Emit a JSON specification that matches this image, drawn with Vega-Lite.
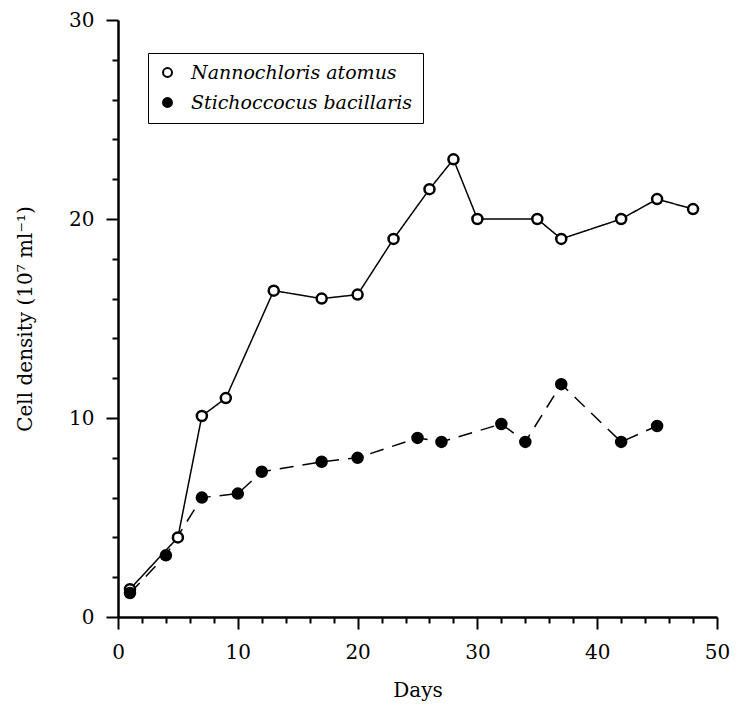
{
  "$schema": "https://vega.github.io/schema/vega-lite/v6.json",
  "width": 599,
  "height": 597,
  "autosize": {"type": "none"},
  "padding": {"left": 118, "top": 20, "right": 22, "bottom": 90},
  "background": "white",
  "config": {
    "view": {"stroke": null},
    "font": "DejaVu Serif",
    "axis": {
      "domainColor": "black", "domainWidth": 2.5, "tickColor": "black", "tickWidth": 2,
      "labelColor": "black", "labelFont": "DejaVu Serif", "labelFontSize": 20,
      "titleFont": "DejaVu Serif", "titleFontSize": 20, "titleFontWeight": "normal", "titleColor": "black",
      "grid": false
    },
    "legend": {
      "labelFont": "DejaVu Serif", "labelFontSize": 19, "labelFontStyle": "italic", "labelColor": "black"
    }
  },
  "data": {
    "values": [
      {"species": "Nannochloris atomus", "day": 1, "density": 1.4},
      {"species": "Nannochloris atomus", "day": 5, "density": 4.0},
      {"species": "Nannochloris atomus", "day": 7, "density": 10.1},
      {"species": "Nannochloris atomus", "day": 9, "density": 11.0},
      {"species": "Nannochloris atomus", "day": 13, "density": 16.4},
      {"species": "Nannochloris atomus", "day": 17, "density": 16.0},
      {"species": "Nannochloris atomus", "day": 20, "density": 16.2},
      {"species": "Nannochloris atomus", "day": 23, "density": 19.0},
      {"species": "Nannochloris atomus", "day": 26, "density": 21.5},
      {"species": "Nannochloris atomus", "day": 28, "density": 23.0},
      {"species": "Nannochloris atomus", "day": 30, "density": 20.0},
      {"species": "Nannochloris atomus", "day": 35, "density": 20.0},
      {"species": "Nannochloris atomus", "day": 37, "density": 19.0},
      {"species": "Nannochloris atomus", "day": 42, "density": 20.0},
      {"species": "Nannochloris atomus", "day": 45, "density": 21.0},
      {"species": "Nannochloris atomus", "day": 48, "density": 20.5},
      {"species": "Stichoccocus bacillaris", "day": 1, "density": 1.2},
      {"species": "Stichoccocus bacillaris", "day": 4, "density": 3.1},
      {"species": "Stichoccocus bacillaris", "day": 7, "density": 6.0},
      {"species": "Stichoccocus bacillaris", "day": 10, "density": 6.2},
      {"species": "Stichoccocus bacillaris", "day": 12, "density": 7.3},
      {"species": "Stichoccocus bacillaris", "day": 17, "density": 7.8},
      {"species": "Stichoccocus bacillaris", "day": 20, "density": 8.0},
      {"species": "Stichoccocus bacillaris", "day": 25, "density": 9.0},
      {"species": "Stichoccocus bacillaris", "day": 27, "density": 8.8},
      {"species": "Stichoccocus bacillaris", "day": 32, "density": 9.7},
      {"species": "Stichoccocus bacillaris", "day": 34, "density": 8.8},
      {"species": "Stichoccocus bacillaris", "day": 37, "density": 11.7},
      {"species": "Stichoccocus bacillaris", "day": 42, "density": 8.8},
      {"species": "Stichoccocus bacillaris", "day": 45, "density": 9.6}
    ]
  },
  "encoding": {
    "x": {
      "field": "day", "type": "quantitative",
      "scale": {"domain": [0, 50], "nice": false, "zero": false},
      "axis": {
        "title": "Days", "values": [0,2,4,6,8,10,12,14,16,18,20,22,24,26,28,30,32,34,36,38,40,42,44,46,48,50],
        "labelExpr": "datum.value % 10 === 0 ? datum.label : ''",
        "tickSize": {"condition": {"test": "datum.value % 10 === 0", "value": 12}, "value": 6},
        "labelPadding": 13, "titlePadding": 18, "labelFlush": false
      }
    },
    "y": {
      "field": "density", "type": "quantitative",
      "scale": {"domain": [0, 30], "nice": false},
      "axis": {
        "title": "Cell density (10⁷ ml⁻¹)",
        "values": [0,2,4,6,8,10,12,14,16,18,20,22,24,26,28,30],
        "labelExpr": "datum.value % 10 === 0 ? datum.label : ''",
        "tickSize": {"condition": {"test": "datum.value % 10 === 0", "value": 12}, "value": 6},
        "labelPadding": 12, "titlePadding": 33, "labelFlush": false
      }
    }
  },
  "resolve": {"legend": {"strokeDash": "independent", "fill": "independent"}},
  "layer": [
    {
      "mark": {"type": "line", "color": "black", "strokeWidth": 1.5},
      "encoding": {
        "detail": {"field": "species"},
        "strokeDash": {
          "field": "species", "type": "nominal",
          "scale": {"domain": ["Nannochloris atomus", "Stichoccocus bacillaris"], "range": [[1, 0], [14, 9]]},
          "legend": null
        }
      }
    },
    {
      "mark": {"type": "point", "shape": "circle", "stroke": "black", "strokeWidth": 2.5, "opacity": 1},
      "encoding": {
        "fill": {
          "field": "species", "type": "nominal",
          "scale": {"domain": ["Nannochloris atomus", "Stichoccocus bacillaris"], "range": ["white", "black"]},
          "legend": {
            "title": null, "orient": "none", "legendX": 30, "legendY": 33,
            "padding": 10, "strokeColor": "black", "labelLimit": 500,
            "symbolSize": 80, "symbolStrokeColor": "black", "symbolStrokeWidth": 2,
            "rowPadding": 10, "labelOffset": 14, "fillColor": "white", "symbolType": "circle",
            "encode": {"legend": {"update": {"strokeWidth": {"value": 2}}}}
          }
        },
        "size": {"value": 100}
      }
    }
  ]
}
